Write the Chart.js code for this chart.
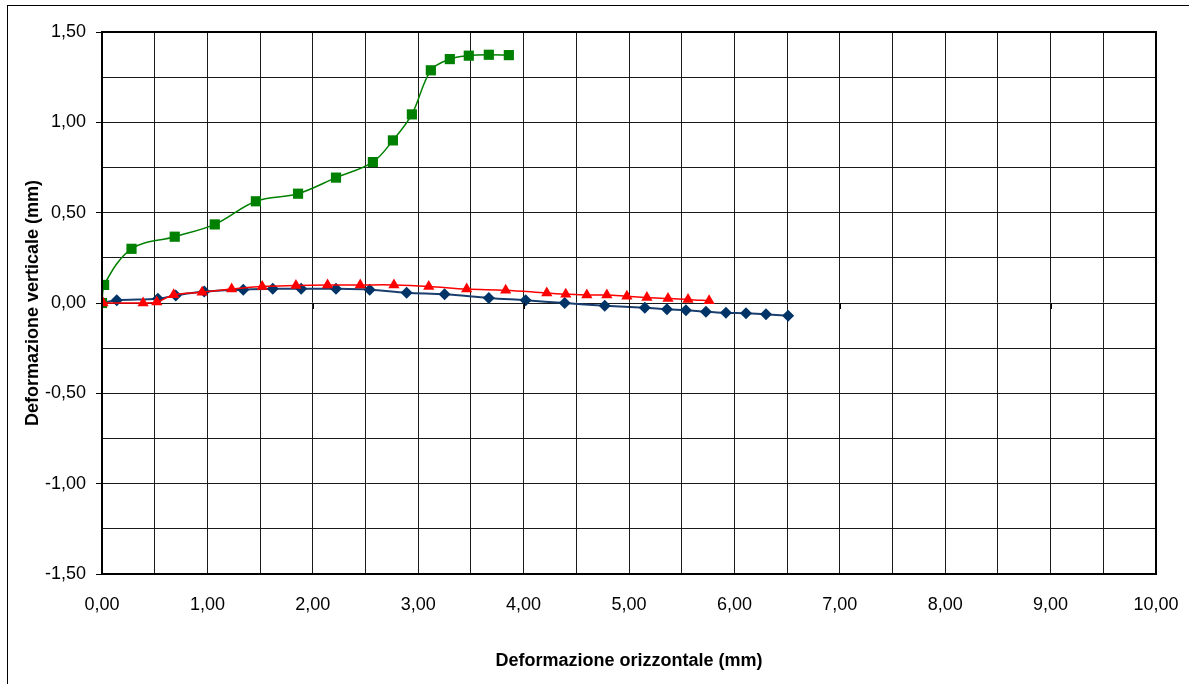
<!DOCTYPE html>
<html>
<head>
<meta charset="utf-8">
<script src="https://cdn.jsdelivr.net/npm/chart.js@4/dist/chart.umd.min.js"></script>
<style>
  html, body { margin: 0; padding: 0; background: #fff; }
  #wrap { width: 1189px; height: 684px; position: relative; }
</style>
</head>
<body>
<div id="wrap"><canvas id="c"></canvas></div>
<script>
// ---- data ----
const greenX = [0.00, 0.02, 0.28, 0.69, 1.07, 1.46, 1.86, 2.22, 2.57, 2.76, 2.94, 3.12, 3.30, 3.48, 3.67, 3.86];
const greenY = [0.00, 0.10, 0.30, 0.367, 0.435, 0.563, 0.605, 0.694, 0.78, 0.90, 1.044, 1.288, 1.350, 1.369, 1.374, 1.372];

const redX = [0.01, 0.39, 0.52, 0.68, 0.95, 1.23, 1.52, 1.84, 2.14, 2.45, 2.77, 3.10, 3.46, 3.83, 4.22, 4.40, 4.60, 4.79, 4.98, 5.17, 5.37, 5.56, 5.76];
const redY = [0.00, 0.00, 0.005, 0.045, 0.06, 0.078, 0.092, 0.097, 0.10, 0.10, 0.10, 0.092, 0.077, 0.071, 0.055, 0.049, 0.044, 0.044, 0.037, 0.030, 0.025, 0.020, 0.012];

const blueX = [0.00, 0.14, 0.53, 0.70, 0.97, 1.34, 1.62, 1.89, 2.22, 2.54, 2.89, 3.25, 3.67, 4.02, 4.39, 4.77, 5.15, 5.36, 5.54, 5.73, 5.92, 6.11, 6.30, 6.51];
const blueY = [0.00, 0.015, 0.024, 0.042, 0.063, 0.074, 0.079, 0.079, 0.079, 0.074, 0.057, 0.048, 0.028, 0.015, 0.00, -0.015, -0.026, -0.035, -0.040, -0.048, -0.054, -0.057, -0.062, -0.070];

const xMin = 0, xMax = 10, xGridStep = 0.5;
const yMin = -1.5, yMax = 1.5, yGridStep = 0.25;
const xTitle = 'Deformazione orizzontale (mm)';
const yTitle = 'Deformazione verticale (mm)';

const pts = (xs, ys) => xs.map((x, i) => ({ x: x, y: ys[i] }));
const fmt = v => v.toFixed(2).replace('.', ',');
const FONT = '"Liberation Sans", Arial, sans-serif';

const framePlugin = {
  id: 'frame',
  beforeDraw(chart) {
    const ctx = chart.ctx;
    ctx.save();
    ctx.fillStyle = '#fff';
    ctx.fillRect(0, 0, chart.width, chart.height);
    ctx.strokeStyle = '#000';
    ctx.lineWidth = 1;
    ctx.strokeRect(7.5, 5.5, chart.width + 20, chart.height + 20);
    ctx.restore();
  },
  afterDatasetsDraw(chart) {
    const { ctx, chartArea: a, scales } = chart;
    ctx.save();
    ctx.strokeStyle = '#000';
    ctx.lineWidth = 2;
    ctx.strokeRect(a.left, a.top, a.right - a.left, a.bottom - a.top);
    // major tick marks on the horizontal axis crossing at y = 0
    const y0 = Math.round(scales.y.getPixelForValue(0));
    ctx.lineWidth = 1;
    ctx.beginPath();
    for (let v = xMin; v <= xMax; v += 1) {
      const px = Math.round(scales.x.getPixelForValue(v)) + 0.5;
      ctx.moveTo(px, y0);
      ctx.lineTo(px, y0 + 6);
    }
    ctx.stroke();
    ctx.restore();
  }
};

new Chart(document.getElementById('c'), {
  type: 'scatter',
  data: {
    datasets: [
      {
        label: 'rosso',
        data: pts(redX, redY),
        showLine: true,
        borderColor: '#ff0000',
        backgroundColor: '#ff0000',
        borderWidth: 1.5,
        pointStyle: 'triangle',
        pointRadius: 6.5,
        pointBorderWidth: 0,
        tension: 0.35,
        order: 0
      },
      {
        label: 'verde',
        data: pts(greenX, greenY),
        showLine: true,
        borderColor: '#008000',
        backgroundColor: '#008000',
        borderWidth: 1.5,
        pointStyle: 'rect',
        pointRadius: 7.2,
        pointBorderWidth: 0,
        tension: 0.35,
        order: 1
      },
      {
        label: 'blu',
        data: pts(blueX, blueY),
        showLine: true,
        borderColor: '#1a3f6e',
        backgroundColor: '#003366',
        borderWidth: 2,
        pointStyle: 'rectRot',
        pointRadius: 6,
        pointBorderWidth: 0,
        tension: 0.35,
        order: 2
      }
    ]
  },
  options: {
    responsive: true,
    maintainAspectRatio: false,
    animation: false,
    events: [],
    layout: { padding: { left: 0, top: 32, right: 33, bottom: 0 } },
    plugins: { legend: { display: false }, tooltip: { enabled: false } },
    scales: {
      x: {
        type: 'linear',
        min: xMin, max: xMax,
        afterFit(s) { s.height = 110; s.paddingLeft = 0; s.paddingRight = 0; },
        border: { color: '#000', width: 2 },
        grid: { color: '#1a1a1a', lineWidth: 1, drawTicks: false },
        ticks: {
          stepSize: xGridStep,
          autoSkip: false,
          maxRotation: 0,
          padding: 20,
          color: '#000',
          font: { family: FONT, size: 18 },
          callback: v => (Math.abs(v - Math.round(v)) < 1e-9 ? fmt(v) : '')
        },
        title: {
          display: true,
          text: xTitle,
          color: '#000',
          font: { family: FONT, size: 18, weight: 'bold' },
          padding: { top: 0, bottom: 12 }
        }
      },
      y: {
        type: 'linear',
        min: yMin, max: yMax,
        afterFit(s) { s.width = 102; s.paddingTop = 0; s.paddingBottom = 0; },
        border: { color: '#000', width: 2 },
        grid: {
          color: '#1a1a1a',
          lineWidth: 1,
          drawTicks: true,
          tickLength: 6,
          tickColor: c => (c.tick && Math.round(c.tick.value * 4) % 2 === 0 ? '#000' : 'rgba(0,0,0,0)')
        },
        ticks: {
          stepSize: yGridStep,
          autoSkip: false,
          padding: 10,
          color: '#000',
          font: { family: FONT, size: 18 },
          callback: v => (Math.round(v * 4) % 2 === 0 ? fmt(v) : '')
        },
        title: {
          display: true,
          text: yTitle,
          color: '#000',
          font: { family: FONT, size: 18, weight: 'bold' },
          padding: { top: 22, bottom: 0 }
        }
      }
    }
  },
  plugins: [framePlugin]
});
</script>
</body>
</html>
